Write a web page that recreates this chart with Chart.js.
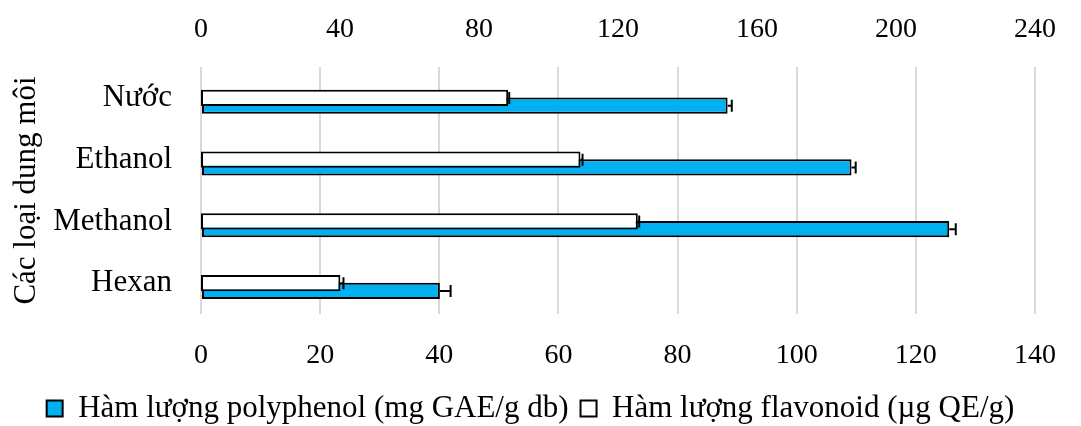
<!DOCTYPE html>
<html>
<head>
<meta charset="utf-8">
<script src="https://cdn.jsdelivr.net/npm/chart.js@4"></script>
<style>
  html, body { margin: 0; padding: 0; background: #fff; }
  #wrap { width: 1081px; height: 426px; }
</style>
</head>
<body>
<div id="wrap"><canvas id="solventChart"></canvas></div>
<script>
// solvents (top to bottom)
const solvents = ['Nước', 'Ethanol', 'Methanol', 'Hexan'];

// polyphenol, bottom axis (mg GAE/g db)
const polyphenol = [88.4, 109.2, 125.6, 40.1];
const polyphenolErr = [0.7, 0.7, 1.1, 1.8];

// flavonoid, top axis (µg QE/g)
const flavonoid = [88.4, 109.2, 125.7, 40.1];
const flavonoidErr = [0.3, 0.6, 0.4, 0.9];

const bottomTicks = [0, 20, 40, 60, 80, 100, 120, 140];
const topTicks = [0, 40, 80, 120, 160, 200, 240];

// empty slot so the white bar sits on the category centre
const spacer = [0, 0, 0, 0];

const serif = "'Liberation Serif', 'Times New Roman', serif";

// error bars, drawn with the scales of each dataset
const errorBars = {
    id: 'errorBars',
    afterDatasetsDraw(chart) {
        const ctx = chart.ctx;
        chart.data.datasets.forEach((ds, i) => {
            if (!ds.errors) return;
            const meta = chart.getDatasetMeta(i);
            const xs = chart.scales[ds.xAxisID];
            meta.data.forEach((bar, j) => {
                const x0 = xs.getPixelForValue(ds.data[j]);
                const x1 = xs.getPixelForValue(ds.data[j] + ds.errors[j]);
                ctx.save();
                ctx.strokeStyle = '#000';
                ctx.lineWidth = 2;
                ctx.beginPath();
                ctx.moveTo(x0, bar.y);
                ctx.lineTo(x1, bar.y);
                ctx.moveTo(x1, bar.y - 6);
                ctx.lineTo(x1, bar.y + 6);
                ctx.stroke();
                ctx.restore();
            });
        });
    }
};

let ctx = document.getElementById('solventChart').getContext('2d');
new Chart(ctx, {
    type: 'bar',
    data: {
        labels: solvents,
        datasets: [{
            label: '',
            data: spacer,
            xAxisID: 'x',
            backgroundColor: 'rgba(0,0,0,0)',
            borderWidth: 0
        },
        {
            label: 'Hàm lượng flavonoid (µg QE/g)',
            data: flavonoid,
            errors: flavonoidErr,
            xAxisID: 'x2',
            backgroundColor: '#ffffff',
            borderColor: '#000000',
            borderWidth: 2,
            borderSkipped: false
        },
        {
            label: 'Hàm lượng polyphenol (mg GAE/g db)',
            data: polyphenol,
            errors: polyphenolErr,
            xAxisID: 'x',
            backgroundColor: '#00b0f0',
            borderColor: '#000000',
            borderWidth: 2,
            borderSkipped: false
        }]
    },
    options: {
        indexAxis: 'y',
        responsive: true,
        maintainAspectRatio: false,
        animation: false,
        categoryPercentage: 0.377,
        barPercentage: 2.08,
        layout: { padding: { left: 8, right: 28, top: 0, bottom: -8 } },
        scales: {
            x: {
                position: 'bottom',
                min: 0,
                max: 140,
                afterBuildTicks: s => { s.ticks = bottomTicks.map(v => ({ value: v })); },
                afterFit: s => { s.height = 67; },
                grid: { color: '#d9d9d9', lineWidth: 2, drawTicks: false },
                border: { display: false },
                ticks: { font: { family: serif, size: 28 }, color: '#000', padding: 25 }
            },
            x2: {
                position: 'top',
                min: 0,
                max: 240,
                afterBuildTicks: s => { s.ticks = topTicks.map(v => ({ value: v })); },
                afterFit: s => { s.height = 67; },
                grid: { display: false, drawTicks: false },
                border: { display: false },
                ticks: { font: { family: serif, size: 28 }, color: '#000', padding: 21 }
            },
            y: {
                afterFit: s => { s.width = 193; },
                grid: { display: false, drawTicks: false },
                border: { display: false },
                ticks: { font: { family: serif, size: 31 }, color: '#000', padding: 29 },
                title: {
                    display: true,
                    text: 'Các loại dung môi',
                    font: { family: serif, size: 31 },
                    color: '#000',
                    padding: 0
                }
            }
        },
        plugins: {
            legend: {
                position: 'bottom',
                reverse: true,
                labels: {
                    filter: item => item.text !== '',
                    font: { family: serif, size: 31 },
                    color: '#000',
                    boxWidth: 16,
                    boxHeight: 16,
                    padding: 12
                }
            },
            tooltip: { enabled: false }
        }
    },
    plugins: [errorBars]
});
</script>
</body>
</html>
